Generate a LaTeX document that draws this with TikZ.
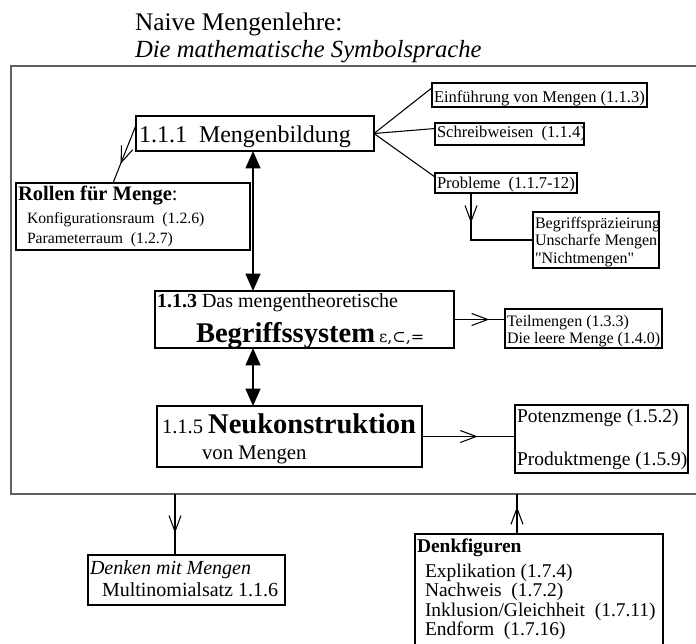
\documentclass[tikz,border=0pt]{standalone}
\usepackage{fontspec}
\setmainfont{Liberation Serif}
\newfontfamily\rawserif{Liberation Serif}[Ligatures=TeXOff]
\newfontfamily\symfam{DejaVu Serif}
\usetikzlibrary{arrows.meta,decorations.markings,calc}

% font size given in pixel-like units of the drawing grid (1 unit = 0.75pt)
\newcommand\pxsize[1]{\fontsize{#1}{#1}\selectfont}
% box node from its upper-left and lower-right corners
\newcommand\placebox[6]{%
  \node[#2, anchor=north west, minimum width={(#5-#3)*0.75pt},
        minimum height={(#6-#4)*0.75pt}] (#1) at (#3,#4) {};}

\tikzset{
  mainbox/.style={draw, rectangle, line width=2.1pt, inner sep=0pt, outer sep=0pt},
  smallbox/.style={draw, rectangle, line width=0.8pt, inner sep=0pt, outer sep=0pt},
  framebox/.style={draw=black!62, rectangle, line width=1.3pt, inner sep=0pt, outer sep=0pt},
  lbl/.style={anchor=base west, inner sep=0pt, outer sep=0pt},
  link/.style={line width=0.8pt},
  midtip/.style={decoration={markings,
      mark=at position #1 with {\arrow{Straight Barb[length=12pt,width=9pt]}}},
      postaction={decorate}},
  dbl/.style={line width=1.7pt,
      {Triangle[length=13pt,width=11pt]}-{Triangle[length=13pt,width=11pt]}},
}

\begin{document}
\begin{tikzpicture}[x=0.75pt,y=-0.75pt]
\useasboundingbox (0,0) rectangle (696,643);
\clip (0,0) rectangle (696,643);

% heading
\node[lbl, font=\pxsize{19}] (ttl) at (135,30) {Naive Mengenlehre:};
\node[lbl, font={\pxsize{18.5}\itshape}] (sub) at (135,57) {Die mathematische Symbolsprache};

% outer frame
\placebox{frame}{framebox}{11}{66}{740}{494}

% main boxes
\placebox{mb}{mainbox}{136}{116}{374}{151}
\placebox{bg}{mainbox}{155}{291}{454}{348}
\placebox{nk}{mainbox}{157}{406}{422}{467}

% side boxes
\placebox{ein}{smallbox}{432}{83}{647}{107}
\placebox{sw}{smallbox}{435}{123}{584}{145}
\placebox{pb}{smallbox}{435}{173}{577}{193}
\placebox{bp}{smallbox}{533}{212}{659}{268}
\placebox{rol}{smallbox}{16}{183}{250}{250}
\placebox{tm}{smallbox}{505}{309}{662}{348}
\placebox{pot}{smallbox}{515}{405}{688}{473}
\placebox{dk}{smallbox}{88}{555}{285}{605}
\placebox{dkf}{smallbox}{415}{534}{663}{670}

% texts of the main boxes
\node[lbl, font=\pxsize{18}] (mbt) at (139,142) {1.1.1\ \ Mengenbildung};
\node[lbl, font=\pxsize{15}] (bgt1) at (157,307) {\textbf{1.1.3} Das mengentheoretische};
\node[lbl] (bgt2) at (196,342) {{\pxsize{21.4}\bfseries Begriffssystem}\hspace{3pt}{\symfam\pxsize{12}ε,⊂,=}};
\node[lbl] (nkt1) at (162,433) {{\pxsize{15.4}1.1.5 }{\pxsize{21.4}\bfseries Neukonstruktion}};
\node[lbl, font=\pxsize{15.6}] (nkt2) at (202,459) {von Mengen};

% texts of the side boxes
\node[lbl, font=\pxsize{12.4}] (eint) at (434,102) {Einführung von Mengen (1.1.3)};
\node[lbl, font=\pxsize{12.4}] (swt) at (437,137) {Schreibweisen\ \ (1.1.4)};
\node[lbl, font=\pxsize{12.4}] (pbt) at (437,188) {Probleme\ \ (1.1.7-12)};
\node[lbl, font=\pxsize{12}] (bpt1) at (535,228) {Begriffspräzieirung};
\node[lbl, font=\pxsize{12}] (bpt2) at (535,245) {Unscharfe Mengen};
\node[lbl, font={\rawserif\pxsize{12}}] (bpt3) at (535,263) {"Nichtmengen"};

\node[lbl] (rolt1) at (18,200) {{\pxsize{15.4}\bfseries Rollen für Menge}{\pxsize{15.4}:}};
\node[lbl, font=\pxsize{11.8}] (rolt2) at (27,223) {Konfigurationsraum\ \ (1.2.6)};
\node[lbl, font=\pxsize{11.8}] (rolt3) at (27,243) {Parameterraum\ \ (1.2.7)};

\node[lbl, font=\pxsize{12}] (tmt1) at (507,326) {Teilmengen (1.3.3)};
\node[lbl, font=\pxsize{12}] (tmt2) at (507,343) {Die leere Menge (1.4.0)};

\node[lbl, font=\pxsize{14.6}] (pott1) at (517,422) {Potenzmenge (1.5.2)};
\node[lbl, font=\pxsize{14.6}] (pott2) at (517,465) {Produktmenge (1.5.9)};

\node[lbl, font={\pxsize{15}\itshape}] (dkt1) at (90,574) {Denken mit Mengen};
\node[lbl, font=\pxsize{15}] (dkt2) at (102,596) {Multinomialsatz 1.1.6};

\node[lbl, font={\pxsize{14.6}\bfseries}] (dkft0) at (417,552) {Denkfiguren};
\node[lbl, font=\pxsize{14.6}] (dkft1) at (425,577) {Explikation (1.7.4)};
\node[lbl, font=\pxsize{14.6}] (dkft2) at (425,596) {Nachweis\ \ (1.7.2)};
\node[lbl, font=\pxsize{14.6}] (dkft3) at (425,616) {Inklusion/Gleichheit\ \ (1.7.11)};
\node[lbl, font=\pxsize{14.6}] (dkft4) at (425,635) {Endform\ \ (1.7.16)};

% guide coordinates for connectors that leave a box off its centre
\coordinate (ax) at (253,0);
\coordinate (px) at (471,0);
\coordinate (dx) at (175,0);
\coordinate (fx) at (517,0);
\coordinate (rx) at (113,0);

% fan to the topics of 1.1.1
\draw[link] (mb.east) -- ($(ein.north west)!0.2!(ein.south west)$);
\draw[link] (mb.east) -- ($(sw.north west)!0.25!(sw.south west)$);
\draw[link] (mb.east) -- ($(pb.north west)!0.2!(pb.south west)$);
\draw[link, midtip=22.5pt] (px |- pb.south) |- (bp.west);

% roles of a set
\draw[link, midtip=0.67] ($(mb.north west)!0.26!(mb.south west)$) -- (rx |- rol.north);

% main chain
\draw[dbl] (ax |- mb.south) -- (ax |- bg.north);
\draw[dbl] (ax |- bg.south) -- (ax |- nk.north);

% details
\draw[link, midtip=0.69] (bg.east) -- (bg.east -| tm.west);
\draw[link, midtip=0.6] (nk.east) -- (nk.east -| pot.west);

% links below the frame
\draw[link, midtip=0.64] (dx |- frame.south) -- (dx |- dk.north);
\draw[link, midtip=0.68] (fx |- dkf.north) -- (fx |- frame.south);
\end{tikzpicture}
\end{document}
